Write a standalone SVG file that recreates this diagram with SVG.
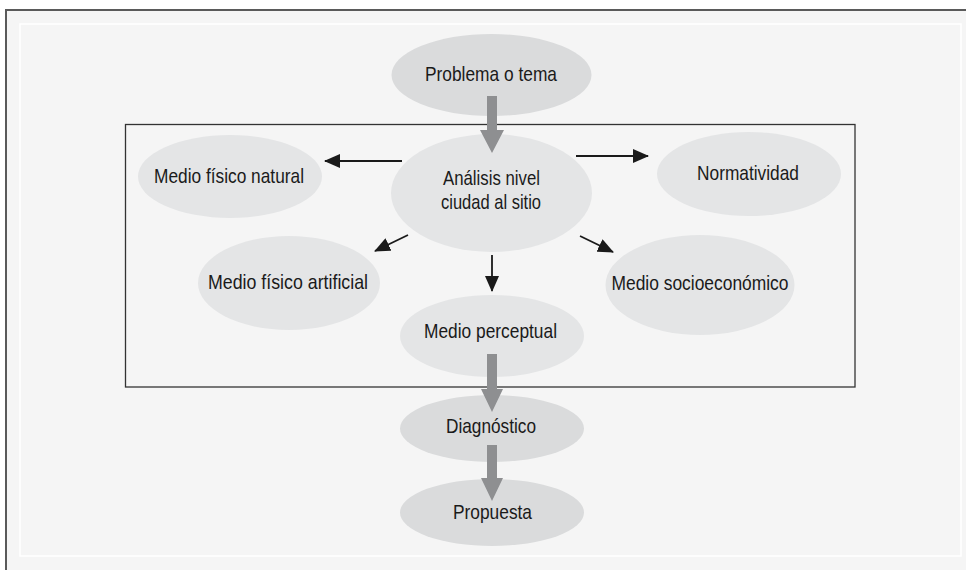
<svg xmlns="http://www.w3.org/2000/svg" width="966" height="570" viewBox="0 0 966 570">
<defs>
<marker id="ah" markerUnits="userSpaceOnUse" markerWidth="16" markerHeight="14" refX="15" refY="7" orient="auto">
<path d="M0,0 L16,7 L0,14 Z" fill="#1a1a1a"/>
</marker>
<style>
.n{fill:#e4e5e6}
.d{fill:#dadbdc}
.t{font-family:"Liberation Sans",Arial,sans-serif;font-size:21px;fill:#1a1a1a;text-anchor:middle}
.c{stroke:#1a1a1a;stroke-width:1.8;fill:none;marker-end:url(#ah)}
.g{fill:#8e8f91}
</style>
</defs>
<rect x="0" y="0" width="966" height="570" fill="#ffffff"/>
<rect x="6" y="10" width="960" height="560" fill="#f5f5f5"/>
<path d="M6,570 V10 H966" fill="none" stroke="#5a5a5a" stroke-width="2"/>
<rect x="20" y="24" width="941" height="532" fill="none" stroke="#ffffff" stroke-width="1.5"/>
<rect x="125.5" y="124.5" width="729.5" height="262.5" fill="none" stroke="#333" stroke-width="1.3"/>

<g id="problema"><ellipse class="d" cx="491.5" cy="75" rx="100" ry="41"/><text class="t" x="491" y="81" textLength="132" lengthAdjust="spacingAndGlyphs">Problema o tema</text></g>
<g id="analisis"><ellipse class="n" cx="491.5" cy="193" rx="100.5" ry="59"/><text class="t" x="491.5" y="185" textLength="97" lengthAdjust="spacingAndGlyphs">Análisis nivel</text><text class="t" x="491" y="209" textLength="100" lengthAdjust="spacingAndGlyphs">ciudad al sitio</text></g>
<g id="natural"><ellipse class="n" cx="230" cy="176.5" rx="92" ry="41.5"/><text class="t" x="229" y="183" textLength="150" lengthAdjust="spacingAndGlyphs">Medio físico natural</text></g>
<g id="normatividad"><ellipse class="n" cx="749" cy="174" rx="92" ry="42"/><text class="t" x="748" y="180" textLength="102" lengthAdjust="spacingAndGlyphs">Normatividad</text></g>
<g id="artificial"><ellipse class="n" cx="289" cy="283" rx="91" ry="47"/><text class="t" x="288" y="289" textLength="160" lengthAdjust="spacingAndGlyphs">Medio físico artificial</text></g>
<g id="socioeconomico"><ellipse class="n" cx="700" cy="285" rx="94.5" ry="50"/><text class="t" x="700" y="290" textLength="177" lengthAdjust="spacingAndGlyphs">Medio socioeconómico</text></g>
<g id="perceptual"><ellipse class="n" cx="492" cy="336" rx="92" ry="41"/><text class="t" x="490.5" y="338" textLength="133" lengthAdjust="spacingAndGlyphs">Medio perceptual</text></g>
<g id="diagnostico"><ellipse class="d" cx="492" cy="428.5" rx="92" ry="33.5"/><text class="t" x="491" y="433" textLength="90" lengthAdjust="spacingAndGlyphs">Diagnóstico</text></g>
<g id="propuesta"><ellipse class="d" cx="492" cy="512.5" rx="92" ry="33.5"/><text class="t" x="492.5" y="519" textLength="79" lengthAdjust="spacingAndGlyphs">Propuesta</text></g>

<g id="connectors">
<path class="g" d="M487,96 H497 V130 H504 L492,153 L480,130 H487 Z"/>
<path class="g" d="M487,354 H497 V389 H503 L492,412 L481,389 H487 Z"/>
<path class="g" d="M487,445 H497 V478 H503 L492,501 L481,478 H487 Z"/>
<line class="c" x1="402" y1="161" x2="325" y2="161"/>
<line class="c" x1="576" y1="156" x2="648" y2="156"/>
<line class="c" x1="492" y1="255" x2="492" y2="291"/>
<line class="c" x1="408" y1="235" x2="375" y2="251"/>
<line class="c" x1="580" y1="236" x2="613" y2="252"/>
</g>
</svg>
